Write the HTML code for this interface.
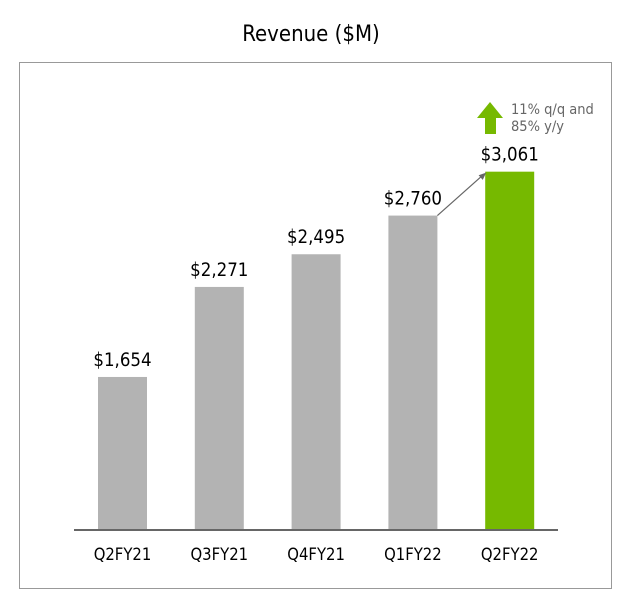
<!DOCTYPE html>
<html><head><meta charset="utf-8"><style>
body{margin:0;background:#fff;width:621px;height:598px;overflow:hidden;font-family:"DejaVu Sans Condensed","Liberation Sans",sans-serif}
</style></head><body>
<svg width="621" height="598">
<text x="311" y="41" text-anchor="middle" font-size="22" fill="#000">Revenue ($M)</text>
<rect x="19.5" y="62.5" width="592" height="526" fill="none" stroke="#999"/>
<g id="bars"></g>
<line x1="74" y1="530" x2="558" y2="530" stroke="#666" stroke-width="2"/>
<g id="annot"></g>
<polygon points="490,102 477,118 485,118 485,134 496,134 496,118 503,118" fill="#76b900"/>
<text x="511" y="114" font-size="14.5" fill="#666">11% q/q and</text>
<text x="511" y="131" font-size="14.5" fill="#666">85% y/y</text>
</svg>
<script>
const categories=["Q2FY21","Q3FY21","Q4FY21","Q1FY22","Q2FY22"];
const revenue=[1654,2271,2495,2760,3061];
const labels=["$1,654","$2,271","$2,495","$2,760","$3,061"];
const NS="http://www.w3.org/2000/svg";
const y0=530,vmin=605,k=0.1459;
const yS=v=>y0-(v-vmin)*k;
const xS=i=>122.5+i*96.8;
const bw=49;
const g=document.getElementById('bars');
function mk(t,a){const e=document.createElementNS(NS,t);for(const q in a)e.setAttribute(q,a[q]);return e;}
categories.forEach((c,i)=>{
 const last=i===categories.length-1;
 const r=mk('rect',{x:xS(i)-bw/2,y:yS(revenue[i]),width:bw,height:y0-yS(revenue[i]),fill:last?'#76b900':'#b3b3b3'});
 
 
 g.appendChild(r);
 const t=mk('text',{x:xS(i),y:yS(revenue[i])-11,'text-anchor':'middle','font-size':'18.5',fill:'#000'});
 t.textContent=labels[i];
 
 
 g.appendChild(t);
 const l=mk('text',{x:xS(i),y:560,'text-anchor':'middle','font-size':'16.5',fill:'#000'});
 l.textContent=c;
 
 
 g.appendChild(l);
});
const n=revenue.length;
const a=document.getElementById('annot');
const x1=xS(n-2)+bw/2,y1=yS(revenue[n-2]),x2=xS(n-1)-bw/2+1,y2=yS(revenue[n-1])+1;
const ln=mk('line',{x1:x1,y1:y1,x2:x2-4,y2:y2+3,stroke:'#666','stroke-width':1.2});


a.appendChild(ln);
const ang=Math.atan2(y2-y1,x2-x1);
const p=[[x2,y2],[x2-8*Math.cos(ang-0.4),y2-8*Math.sin(ang-0.4)],[x2-8*Math.cos(ang+0.4),y2-8*Math.sin(ang+0.4)]];
const hd=mk('polygon',{points:p.map(q=>q.join(',')).join(' '),fill:'#666'});


a.appendChild(hd);
</script>
</body></html>
